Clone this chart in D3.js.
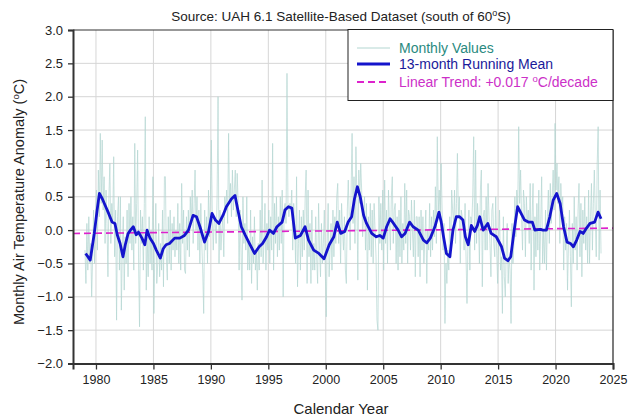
<!DOCTYPE html>
<html><head><meta charset="utf-8">
<script src="https://cdn.jsdelivr.net/npm/d3@7"></script>
<style>body{margin:0;background:#fff} svg text{font-family:"Liberation Sans",Arial,sans-serif}</style>
</head><body><svg id="c" width="637" height="418"></svg>
<script>
const yTicks=[-2.0,-1.5,-1.0,-0.5,0.0,0.5,1.0,1.5,2.0,2.5,3.0];
const xTicks=[1980,1985,1990,1995,2000,2005,2010,2015,2020,2025];
const monthlyStartYear=1979;
const monthly=[
-0.3,-0.8,0.1,-0.6,0.2,-0.5,-0.2,-1.0,-0.4,0.3,-0.5,0.2,
0.6,-0.3,0.9,0.2,1.45,0.4,1.35,0.3,0.8,-0.2,0.6,0.1,
-0.7,0.5,1.0,-0.2,0.4,0.1,1.1,-0.4,0.3,-1.35,0.2,0.5,
-0.6,0.5,-1.2,-0.3,0.2,-0.9,-0.1,-0.5,0.3,-0.7,0.4,-0.2,
0.5,-0.3,0.2,-0.6,1.3,-0.2,0.4,1.2,-0.5,-1.45,0.3,-0.2,
0.2,-0.6,0.4,1.7,-0.9,-0.1,-0.7,0.2,-0.5,0.0,-0.6,0.8,
-1.25,-0.3,0.4,-0.8,-0.5,0.1,-0.7,-0.2,-0.6,0.3,-0.85,0.8,
0.8,-0.4,-0.75,0.2,-0.5,0.3,-0.6,0.1,-0.3,0.2,-0.4,0.0,
-0.3,0.4,-0.5,0.1,-0.6,0.7,-0.2,0.3,-0.6,-0.65,0.2,-0.3,
0.3,-0.4,0.5,0.1,0.6,-0.2,0.4,0.9,0.0,0.5,-0.3,0.3,
-0.5,0.4,-0.2,-0.6,-1.25,0.3,-0.3,0.2,-0.5,0.6,-0.1,0.5,
1.35,0.2,-0.3,0.2,0.1,-0.2,0.5,2.0,-0.5,0.3,-0.3,0.0,
0.2,-0.4,0.5,0.3,0.6,0.1,1.45,0.4,0.7,0.2,0.9,0.3,
0.6,0.9,0.2,0.85,0.4,-0.6,0.3,-0.3,-1.05,0.5,-0.2,0.1,
-0.3,0.5,-0.6,-0.2,-0.6,0.3,-0.8,-0.1,-0.5,0.2,-0.6,-0.3,
-0.9,-0.2,-0.6,0.3,-0.4,0.75,-0.5,-0.2,0.4,-0.6,0.1,-0.3,
0.3,-0.5,0.2,-0.3,1.3,-0.6,0.4,-0.2,0.5,-0.4,0.2,-0.3,
0.5,-0.2,0.6,-1.0,0.3,0.4,0.1,2.35,0.4,0.2,0.4,0.3,
0.6,-0.3,0.4,0.1,-0.5,0.8,-0.85,-0.2,0.3,-0.6,0.2,-0.4,
0.3,-0.3,0.5,0.9,-0.8,0.6,-0.4,0.1,-0.8,0.3,-0.6,-0.2,
-0.6,0.2,-0.4,-0.8,0.4,-0.3,-0.7,0.1,-0.5,-0.2,0.3,-0.6,
-1.3,-0.2,0.4,-0.7,-0.3,0.1,-0.6,0.3,-0.4,0.2,-0.2,0.5,
0.7,-0.2,0.3,-0.5,0.4,0.0,-0.3,0.2,-0.6,-0.8,0.3,0.75,
0.2,-0.3,0.6,1.45,0.1,0.8,-0.2,1.25,0.5,-0.75,0.9,0.4,
1.0,0.6,-0.1,0.25,0.5,-0.3,0.4,-0.9,0.2,-0.3,0.4,-0.4,
0.3,-0.5,0.4,0.0,-0.4,-1.35,-1.5,0.5,-0.2,0.4,-0.3,0.6,
-0.6,0.75,-0.2,0.3,-0.5,0.6,0.1,-0.3,0.5,0.8,-0.2,0.3,
0.4,-0.5,0.2,-0.6,0.3,-0.4,0.5,-0.5,0.1,-0.3,0.7,-0.2,
0.6,-0.5,0.3,0.2,-0.3,0.45,0.0,-0.4,0.45,-0.7,0.2,0.2,
-0.4,0.2,-0.7,0.3,-0.3,0.2,-0.5,-0.1,0.3,-0.8,0.0,-0.3,
0.4,-0.4,0.2,-0.3,0.3,-0.1,0.65,-0.2,1.4,0.3,0.6,0.2,
1.0,0.3,-0.3,0.1,-1.4,-0.5,-0.8,-0.3,-0.6,0.2,-0.4,0.6,
0.3,0.1,0.6,-0.2,0.4,1.15,0.2,0.5,-0.5,0.3,0.2,0.1,
-0.3,0.4,-0.4,-1.1,-0.2,0.3,-0.6,0.2,0.1,0.5,1.4,-0.3,
1.2,-0.2,0.4,0.1,-0.5,0.6,0.9,-0.85,0.2,0.3,-0.3,0.5,
-0.3,0.7,0.2,-0.2,-0.7,0.3,0.4,-0.2,-0.4,0.5,-0.3,-0.8,
-0.2,0.3,-0.6,-0.4,-1.25,0.2,-0.7,-1.0,-0.3,0.1,-0.8,-0.4,
-0.6,-1.4,0.1,-0.5,-0.2,0.5,-0.1,0.6,0.3,1.55,0.4,0.9,
0.2,-0.3,0.6,0.4,-0.4,0.5,0.1,0.3,-0.2,0.7,-0.6,0.2,
0.7,-0.9,0.2,-0.4,0.4,-0.3,0.6,-0.6,0.1,0.8,-0.5,0.0,
-0.5,0.3,-0.6,0.2,0.6,-0.2,0.7,0.1,0.5,0.9,0.3,1.6,
0.6,1.0,0.4,0.8,-0.2,0.7,0.3,0.5,-0.6,0.2,-0.3,0.1,
-0.9,-0.2,0.3,-0.4,-1.15,0.1,-0.5,0.5,-0.3,0.2,-0.6,0.3,
0.7,-0.4,0.4,-0.7,0.3,-0.2,0.5,-0.3,0.2,-0.5,0.6,-0.5,
0.2,0.7,-0.3,0.4,0.9,0.2,-0.4,1.0,1.55,-0.45,0.6,-0.35
];
const meanYears=[1979.1,1979.5,1979.85,1980.1,1980.3,1980.55,1980.85,1981.1,1981.4,1981.65,1981.85,1982.1,1982.35,1982.55,1982.8,1983.0,1983.25,1983.5,1983.7,1984.0,1984.25,1984.45,1984.7,1985.0,1985.25,1985.6,1985.85,1986.1,1986.4,1986.85,1987.3,1987.7,1988.05,1988.45,1988.75,1989.05,1989.45,1989.8,1990.1,1990.4,1990.7,1991.05,1991.35,1991.8,1992.1,1992.35,1992.65,1993.0,1993.35,1993.8,1994.2,1994.5,1994.85,1995.1,1995.45,1995.75,1996.2,1996.45,1996.75,1997.05,1997.2,1997.35,1997.8,1998.2,1998.5,1998.95,1999.4,1999.85,2000.3,2000.7,2001.0,2001.3,2001.65,2001.95,2002.25,2002.5,2002.75,2003.0,2003.3,2003.55,2004.0,2004.4,2004.7,2005.0,2005.3,2005.6,2005.9,2006.3,2006.6,2006.9,2007.3,2007.6,2008.05,2008.5,2008.8,2009.1,2009.5,2009.85,2010.05,2010.25,2010.5,2010.8,2011.07,2011.36,2011.65,2011.94,2012.15,2012.4,2012.67,2012.96,2013.2,2013.4,2013.7,2014.1,2014.4,2014.84,2015.3,2015.56,2015.85,2016.1,2016.4,2016.7,2017.0,2017.3,2017.63,2017.98,2018.2,2018.65,2018.9,2019.2,2019.5,2019.8,2020.1,2020.4,2020.7,2021.0,2021.3,2021.55,2021.84,2022.13,2022.4,2022.7,2023.0,2023.4,2023.7,2023.96];
const meanValues=[-0.35,-0.45,-0.05,0.3,0.55,0.47,0.35,0.25,0.12,0.1,-0.07,-0.2,-0.4,-0.22,-0.05,0.0,0.05,-0.07,-0.03,-0.12,-0.22,0.0,-0.12,-0.2,-0.3,-0.42,-0.28,-0.22,-0.2,-0.12,-0.12,-0.08,0.0,0.22,0.2,0.05,-0.18,-0.02,0.25,0.15,0.1,0.22,0.35,0.47,0.52,0.3,0.05,-0.08,-0.2,-0.35,-0.25,-0.2,-0.1,0.0,-0.05,0.05,0.12,0.3,0.35,0.33,0.1,-0.12,-0.08,0.05,-0.15,-0.3,-0.35,-0.43,-0.22,-0.1,0.12,-0.05,-0.02,0.12,0.2,0.47,0.65,0.5,0.22,0.1,-0.05,-0.1,-0.08,-0.12,0.05,0.17,0.1,0.0,-0.1,-0.05,0.12,0.05,0.0,-0.15,-0.19,-0.12,0.05,0.27,0.12,-0.1,-0.35,-0.4,0.0,0.2,0.2,0.15,-0.1,-0.22,0.07,-0.02,0.07,0.2,0.0,0.1,-0.05,-0.1,-0.25,-0.42,-0.46,-0.4,0.0,0.35,0.25,0.15,0.12,0.12,0.0,0.01,0.0,0.0,0.2,0.45,0.55,0.4,0.05,-0.18,-0.2,-0.25,-0.15,-0.02,-0.05,0.03,0.1,0.12,0.27,0.17];
const trendYears=[1978,2025];
const trendValues=[-0.05,0.03];

const svg=d3.select("#c");
const L=73,R=613,T=30,B=363.5;
const x=d3.scaleLinear().domain([1978,2025]).range([L,R]);
const y=d3.scaleLinear().domain([-2,3]).range([B,T]);

svg.append("defs").append("clipPath").attr("id","clip").append("rect")
  .attr("x",L).attr("y",T).attr("width",R-L).attr("height",B-T);

// grid
const g=svg.append("g");
g.selectAll(".hg").data(yTicks.filter(v=>v>-2&&v<3)).join("line")
  .attr("x1",L).attr("x2",R).attr("y1",d=>y(d)).attr("y2",d=>y(d))
  .attr("stroke","#d6d6d6").attr("stroke-width",1);
g.selectAll(".vg").data(xTicks.filter(v=>v<2025)).join("line")
  .attr("y1",T).attr("y2",B).attr("x1",d=>x(d)).attr("x2",d=>x(d))
  .attr("stroke","#d6d6d6").attr("stroke-width",1);

const plot=svg.append("g").attr("clip-path","url(#clip)");
const monthlyPts=monthly.map((v,i)=>[monthlyStartYear+i/12+1/24,v]);
plot.append("path").datum(monthlyPts)
  .attr("d",d3.line().x(d=>x(d[0])).y(d=>y(d[1])))
  .attr("fill","none").attr("stroke","#b3d6d1").attr("stroke-width",0.7);
plot.append("path").datum(trendYears.map((t,i)=>[t,trendValues[i]]))
  .attr("d",d3.line().x(d=>x(d[0])).y(d=>y(d[1])))
  .attr("fill","none").attr("stroke","#dd22cc").attr("stroke-width",1.6).attr("stroke-dasharray","7,4");
plot.append("path").datum(meanYears.map((t,i)=>[t,meanValues[i]]))
  .attr("d",d3.line().x(d=>x(d[0])).y(d=>y(d[1])))
  .attr("fill","none").attr("stroke","#1414cc").attr("stroke-width",2.8).attr("stroke-linejoin","round");

// frame
svg.append("line").attr("x1",L).attr("x2",R).attr("y1",T).attr("y2",T).attr("stroke","#333").attr("stroke-width",1.2);
svg.append("line").attr("x1",R).attr("x2",R).attr("y1",T).attr("y2",B).attr("stroke","#222").attr("stroke-width",1.2);

// axes
const ya=svg.append("g").attr("transform",`translate(${L},0)`)
  .call(d3.axisLeft(y).tickValues(yTicks).tickFormat(d3.format(".1f")).tickSize(5).tickPadding(5));
const xa=svg.append("g").attr("transform",`translate(0,${B})`)
  .call(d3.axisBottom(x).tickValues(xTicks).tickFormat(d3.format("d")).tickSize(6).tickPadding(6));
[ya,xa].forEach(a=>{
  a.select(".domain").attr("stroke","#333").attr("stroke-width",2);
  a.selectAll(".tick line").attr("stroke","#333").attr("stroke-width",1.3);
  a.selectAll(".tick text").attr("fill","#222").style("font-family","Liberation Sans, Arial, sans-serif").style("font-size","13px");
});
xa.selectAll(".tick text").style("font-size","12.5px");

// title
const title=svg.append("text").attr("x",341).attr("y",21).attr("text-anchor","middle")
  .style("font-size","13.5px").attr("fill","#222");
title.append("tspan").text("Source: UAH 6.1 Satellite-Based Dataset (south of 60");
title.append("tspan").text("o").attr("dy",-5).style("font-size","9px");
title.append("tspan").text("S)").attr("dy",5);

// axis titles
svg.append("text").attr("x",341).attr("y",414).attr("text-anchor","middle")
  .style("font-size","15px").attr("fill","#222").text("Calendar Year");
const yt=svg.append("text").attr("transform","translate(24,202) rotate(-90)").attr("text-anchor","middle")
  .style("font-size","14.5px").attr("fill","#222");
yt.append("tspan").text("Monthly Air Temperature Anomaly (");
yt.append("tspan").text("o").attr("dy",-5).style("font-size","9.5px");
yt.append("tspan").text("C)").attr("dy",5);

// legend
const lg=svg.append("g");
lg.append("rect").attr("x",348).attr("y",29.5).attr("width",265).attr("height",71)
  .attr("fill","#fff").attr("stroke","#222").attr("stroke-width",1);
const rows=[
 {c:"#b3d6d1",w:1,dash:null,tc:"#2a8a80",y:48,t:["Monthly Values"]},
 {c:"#1414cc",w:2.8,dash:null,tc:"#1a1a9a",y:64,t:["13-month Running Mean"]},
 {c:"#dd22cc",w:2,dash:"7,4",tc:"#cc30c8",y:82,t:["Linear Trend: +0.017 ","o","C/decade"]}
];
rows.forEach(r=>{
  lg.append("line").attr("x1",357).attr("x2",390).attr("y1",r.y).attr("y2",r.y)
    .attr("stroke",r.c).attr("stroke-width",r.w).attr("stroke-dasharray",r.dash);
  const t=lg.append("text").attr("x",399).attr("y",r.y+5).style("font-size","14px").attr("fill",r.tc);
  if(r.t.length===1){t.text(r.t[0]);}
  else{
    t.append("tspan").text(r.t[0]);
    t.append("tspan").text(r.t[1]).attr("dy",-5).style("font-size","9.5px");
    t.append("tspan").text(r.t[2]).attr("dy",5);
  }
});
</script></body></html>
